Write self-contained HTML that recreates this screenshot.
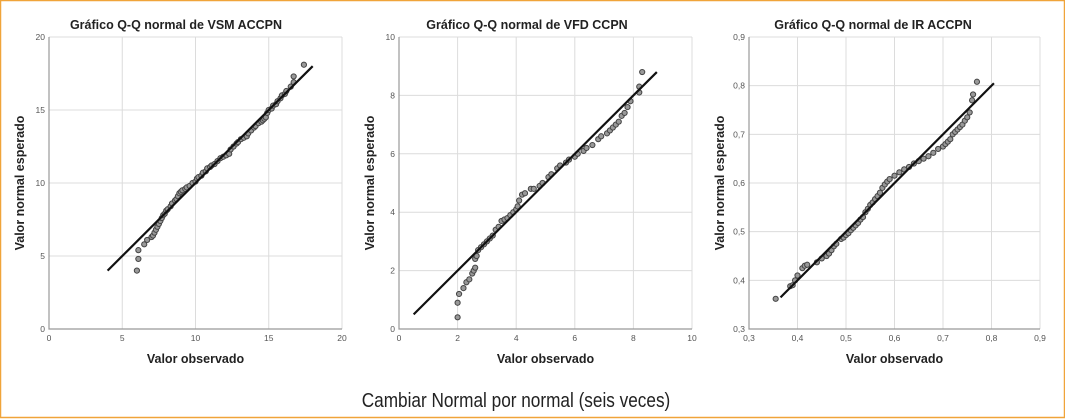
<!DOCTYPE html>
<html><head><meta charset="utf-8"><style>
html,body{margin:0;padding:0;background:#fff}
svg{display:block}
text{font-family:"Liberation Sans",sans-serif}
</style></head><body>
<svg id="s" width="1065" height="419" viewBox="0 0 1065 419" xmlns="http://www.w3.org/2000/svg">
<rect x="0.5" y="0.5" width="1064" height="417" fill="#fff" stroke="#f0a43a" stroke-width="1.5"/>
<text x="516" y="407" font-size="20" fill="#222" text-anchor="middle" transform="translate(516 0) scale(0.86 1) translate(-516 0)">Cambiar Normal por normal (seis veces)</text>
</svg>
<script>
// Chart 1: VSM ACCPN
const c1Obs=[6,6.1,6.1,6.5,6.7,7,7.1,7.2,7.3,7.4,7.5,7.6,7.7,7.8,7.9,8,8.1,8.3,8.4,8.6,8.7,8.8,8.9,9,9.1,9.3,9.4,9.6,9.8,10,10.1,10.2,10.4,10.5,10.7,10.8,11,11.1,11.3,11.5,11.7,11.9,12.1,12.3,12.4,12.6,12.8,12.9,13.1,13.3,13.5,13.6,13.8,14,14.1,14.3,14.5,14.6,14.7,14.8,14.9,15,15.2,15.3,15.5,15.6,15.8,15.9,16.1,16.2,16.5,16.7,16.7,17.4];
const c1Exp=[4,4.8,5.4,5.8,6.1,6.3,6.4,6.6,6.8,7,7.2,7.4,7.6,7.8,7.9,8.1,8.2,8.4,8.6,8.8,8.9,9.1,9.3,9.4,9.5,9.6,9.7,9.8,10,10.1,10.3,10.4,10.5,10.7,10.8,11,11.1,11.2,11.3,11.5,11.7,11.8,11.9,12,12.3,12.5,12.7,12.8,13,13.1,13.2,13.4,13.6,13.8,13.9,14.1,14.2,14.3,14.4,14.5,14.8,15,15.1,15.3,15.4,15.6,15.8,16,16.1,16.3,16.6,16.9,17.3,18.1];
const c1Ticks=[0,5,10,15,20];
const c1Line=[4,18];
// Chart 2: VFD CCPN
const c2Obs=[2,2,2.05,2.2,2.3,2.4,2.5,2.55,2.6,2.6,2.65,2.7,2.8,2.9,3,3.1,3.2,3.3,3.4,3.5,3.6,3.7,3.8,3.9,4,4.05,4.1,4.2,4.3,4.5,4.6,4.8,4.9,5.1,5.2,5.4,5.5,5.7,5.8,6,6.1,6.3,6.4,6.6,6.8,6.9,7.1,7.2,7.3,7.4,7.5,7.6,7.7,7.8,7.9,8.2,8.2,8.3];
const c2Exp=[0.4,0.9,1.2,1.4,1.6,1.7,1.9,2,2.1,2.4,2.5,2.7,2.8,2.9,3,3.1,3.2,3.4,3.5,3.7,3.75,3.8,3.9,4,4.1,4.2,4.4,4.6,4.65,4.8,4.8,4.9,5,5.2,5.3,5.5,5.6,5.7,5.8,5.9,6,6.1,6.2,6.3,6.5,6.6,6.7,6.8,6.9,7,7.1,7.3,7.4,7.6,7.8,8.1,8.3,8.8];
const c2Ticks=[0,2,4,6,8,10];
const c2Line=[0.5,8.8];
// Chart 3: IR ACCPN
const c3Obs=[0.355,0.385,0.39,0.395,0.4,0.41,0.415,0.42,0.44,0.45,0.46,0.465,0.47,0.475,0.48,0.49,0.495,0.5,0.505,0.51,0.515,0.52,0.525,0.53,0.535,0.54,0.545,0.55,0.555,0.56,0.565,0.57,0.575,0.58,0.585,0.59,0.6,0.61,0.62,0.63,0.64,0.65,0.66,0.67,0.68,0.69,0.7,0.705,0.71,0.715,0.72,0.725,0.73,0.735,0.74,0.745,0.75,0.755,0.76,0.762,0.77];
const c3Exp=[0.362,0.388,0.39,0.4,0.41,0.425,0.43,0.432,0.437,0.445,0.45,0.455,0.462,0.47,0.475,0.485,0.488,0.493,0.497,0.503,0.508,0.513,0.518,0.525,0.53,0.54,0.547,0.555,0.56,0.567,0.573,0.58,0.59,0.597,0.603,0.608,0.615,0.622,0.628,0.633,0.64,0.645,0.65,0.655,0.662,0.67,0.675,0.68,0.685,0.69,0.7,0.705,0.71,0.715,0.72,0.728,0.735,0.745,0.77,0.782,0.808];
const c3Ticks=[0.3,0.4,0.5,0.6,0.7,0.8,0.9];
const c3Line=[0.365,0.805];

const NS="http://www.w3.org/2000/svg";
const svg=document.getElementById('s');
function mk(tag,attrs,parent){const e=document.createElementNS(NS,tag);for(const k in attrs)e.setAttribute(k,attrs[k]);(parent||svg).appendChild(e);return e;}
function chart(id,title,x0,x1,tcx,ticks,obs,exp,line,dec){
  const g=mk('g',{});
  
  
  const mn=ticks[0],mx=ticks[ticks.length-1];
  const sx=v=>x0+(v-mn)/(mx-mn)*(x1-x0);
  const sy=v=>329-(v-mn)/(mx-mn)*292;
  const fmt=v=>dec?v.toFixed(1).replace('.',','):String(v);
  ticks.forEach((t,i)=>{
    if(i>0){
      const gl=mk('line',{x1:sx(t),x2:sx(t),y1:37,y2:329,stroke:'#dcdcdc','stroke-width':1},g);
      
      
      const hl=mk('line',{x1:x0,x2:x1,y1:sy(t),y2:sy(t),stroke:'#dcdcdc','stroke-width':1},g);
      
      
    }
    const xt=mk('text',{x:sx(t),y:341,'font-size':8.5,fill:'#555','text-anchor':'middle'},g);xt.textContent=fmt(t);
    
    
    const yt=mk('text',{x:x0-4,y:sy(t)+3,'font-size':8.5,fill:'#555','text-anchor':'end'},g);yt.textContent=fmt(t);
    
    
  });
  const ax=mk('path',{d:`M${x0} 37V329H${x1}`,fill:'none',stroke:'#999','stroke-width':1.2},g);
  
  
  obs.forEach((v,i)=>{
    const c=mk('circle',{cx:sx(v),cy:sy(exp[i]),r:2.6,fill:'#999',stroke:'#444','stroke-width':1},g);
    
    
  });
  const rl=mk('line',{x1:sx(line[0]),y1:sy(line[0]),x2:sx(line[1]),y2:sy(line[1]),stroke:'#111','stroke-width':2.2},g);
  
  
  const cx=(x0+x1)/2;
  const tt=mk('text',{x:tcx,y:29,'font-size':12.5,'font-weight':'bold',fill:'#222','text-anchor':'middle'},g);tt.textContent=title;
  
  
  const xl=mk('text',{x:cx,y:363,'font-size':12.5,'font-weight':'bold',fill:'#222','text-anchor':'middle'},g);xl.textContent='Valor observado';
  
  
  const yx=x0-25;
  const yl=mk('text',{x:yx,y:183,'font-size':12.5,'font-weight':'bold',fill:'#222','text-anchor':'middle',transform:`rotate(-90 ${yx} 183)`},g);yl.textContent='Valor normal esperado';
  
  
}
chart('qq-chart-vsm','Gráfico Q-Q  normal de VSM ACCPN',49,342,176,c1Ticks,c1Obs,c1Exp,c1Line,false);
chart('qq-chart-vfd','Gráfico Q-Q normal de  VFD  CCPN',399,692,527,c2Ticks,c2Obs,c2Exp,c2Line,false);
chart('qq-chart-ir','Gráfico Q-Q normal de IR ACCPN',749,1040,873,c3Ticks,c3Obs,c3Exp,c3Line,true);
</script>
</body></html>
